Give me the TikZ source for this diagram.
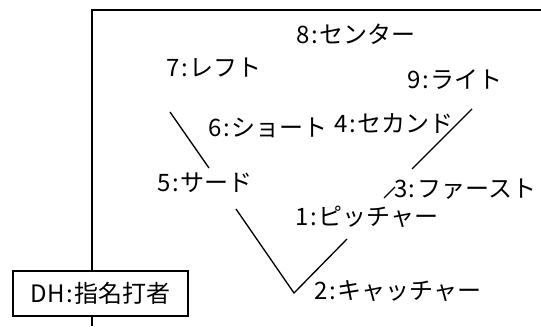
\documentclass[tikz,border=0pt]{standalone}
\usepackage{fontspec}
\newfontfamily\jpfont{Noto Sans CJK JP}
\newcommand\posno[1]{#1\kern1.2pt:\kern1.2pt}
\begin{document}
\begin{tikzpicture}[x=0.75pt,y=0.75pt,yscale=-1,xscale=1,
  player/.style={font=\jpfont\fontsize{18}{20}\selectfont, inner sep=0.75pt},
  field/.style={line width=1pt},
  dhbox/.style={player, draw, line width=1.1pt, fill=white, minimum width=131pt, minimum height=34pt}]
\useasboundingbox (0,0) rectangle (541,326);

%Frame
\draw [line width=1.5pt] (92,326) -- (92,10) -- (541,10) ;

%Field lines
\coordinate (left1) at (170,112);
\coordinate (left2) at (209,168);
\coordinate (third) at (236,209);
\coordinate (home) at (294,293);
\coordinate (first1) at (347,239);
\coordinate (first2) at (384,198);
\coordinate (first3) at (395,187);
\coordinate (right1) at (412,169);
\coordinate (right2) at (472,109);
\draw [field] (left1) -- (left2) ;
\draw [field] (third) -- (home) -- (first1) ;
\draw [field] (first2) -- (first3) ;
\draw [field] (right1) -- (right2) ;

% Text Node
\node [player] (center) at (356,34) {\posno{8}センター};
% Text Node
\node [player] (left) at (214,68) {\posno{7}レフト};
% Text Node
\node [player] (right) at (455,80) {\posno{9}ライト};
% Text Node
\node [player] (short) at (268,128) {\posno{6}ショート};
% Text Node
\node [player] (second) at (394,124) {\posno{4}セカンド};
% Text Node
\node [player] (thirdb) at (205,183) {\posno{5}サード};
% Text Node
\node [player] (firstb) at (465,189) {\posno{3}ファースト};
% Text Node
\node [player] (pitcher) at (367,217) {\posno{1}ピッチャー};
% Text Node
\node [player] (catcher) at (398,291) {\posno{2}キャッチャー};
% DH
\node [dhbox] (dh) at (100.5,293.5) {DH\kern1.2pt:\kern1.2pt 指名打者};

\end{tikzpicture}
\end{document}
